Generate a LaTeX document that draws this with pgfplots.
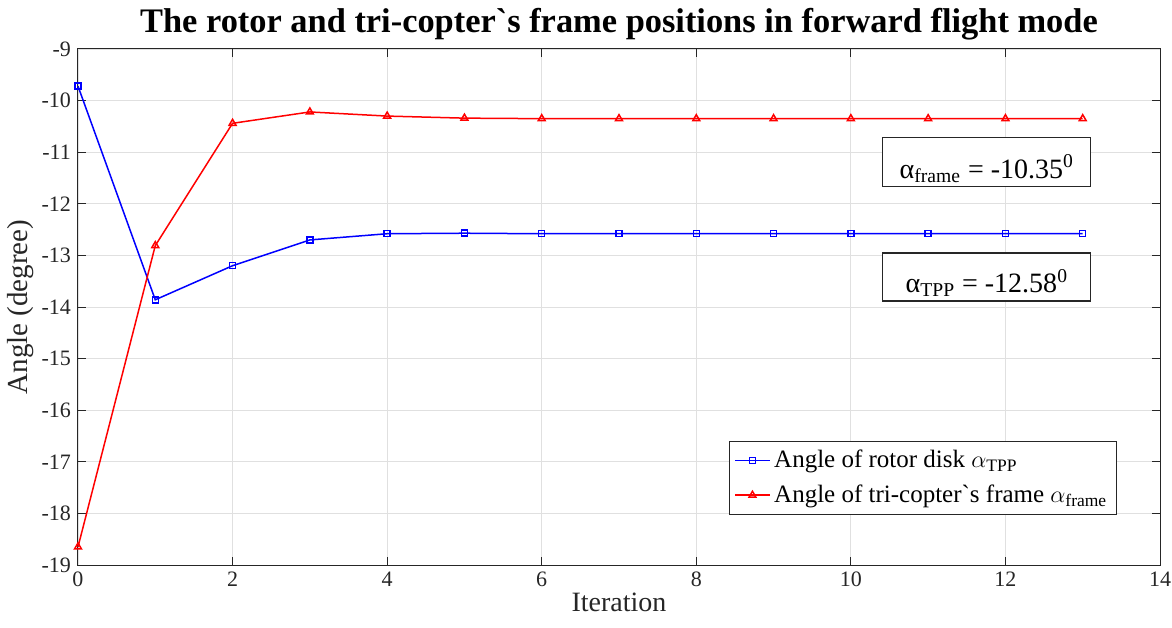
\documentclass[border=0pt]{standalone}
\usepackage{fontspec}
\setmainfont{Liberation Serif}
\usepackage{pgfplots}
\pgfplotsset{compat=1.18}
\definecolor{axgray}{gray}{0.15}
\definecolor{gridgray}{gray}{0.88}
\begin{document}
\begin{tikzpicture}
\begin{axis}[
  scale only axis,
  width=541pt, height=258pt,
  xmin=0, xmax=14, ymin=-19, ymax=-9,
  xtick={0,2,...,14}, ytick={-19,-18,...,-9},
  /pgf/number format/assume math mode=true,
  tick label style={font=\fontsize{11}{12}\selectfont, text=axgray},
  grid=major,
  major grid style={gridgray, line width=0.4pt},
  axis line style={axgray, line width=0.5pt},
  tick style={axgray, line width=0.5pt},
  tick align=inside,
  major tick length=4pt,
  title={\bfseries The rotor and tri-copter\textasciigrave s frame positions in forward flight mode},
  title style={font=\fontsize{17.2}{19}\selectfont, yshift=-5pt},
  xlabel={Iteration},
  ylabel={Angle (degree)},
  xlabel style={font=\fontsize{14}{16}\selectfont, text=axgray, yshift=4pt},
  ylabel style={font=\fontsize{14.5}{16}\selectfont, text=axgray, yshift=-3pt},
  legend style={at={(0.96,0.097)}, anchor=south east, draw=axgray, line width=0.5pt,
    font=\fontsize{12.5}{15}\selectfont, inner sep=2.5pt, row sep=3pt},
  legend cell align=left,
  legend image post style={line width=0.7pt},
  clip=false,
]
\addplot[blue, line width=0.75pt, mark=square, mark size=1.5pt, mark options={solid}] coordinates {
(0,-9.72) (1,-13.86) (2,-13.2) (3,-12.7) (4,-12.58) (5,-12.57) (6,-12.58) (7,-12.58)
(8,-12.58) (9,-12.58) (10,-12.58) (11,-12.58) (12,-12.58) (13,-12.58)};
\addlegendentry{Angle of rotor disk $\alpha_{\mathrm{TPP}}$}
\addplot[red, line width=0.75pt, mark=triangle, mark size=2pt, mark options={solid}] coordinates {
(0,-18.65) (1,-12.81) (2,-10.44) (3,-10.22) (4,-10.30) (5,-10.34) (6,-10.35) (7,-10.35)
(8,-10.35) (9,-10.35) (10,-10.35) (11,-10.35) (12,-10.35) (13,-10.35)};
\addlegendentry{Angle of tri-copter\textasciigrave s frame $\alpha_{\mathrm{frame}}$}
\node[draw=axgray, line width=0.6pt, fill=white, minimum width=104pt, minimum height=24.5pt, inner sep=0pt,
  font=\fontsize{14}{16}\selectfont] (fb) at (axis cs:11.76,-11.19) {};
\node[anchor=base, font=\fontsize{14}{16}\selectfont] at ([yshift=4.5pt]fb.south)
  {α\textsubscript{frame} = -10.35\textsuperscript{0}};
\node[draw=axgray, line width=0.6pt, fill=white, minimum width=104pt, minimum height=24pt, inner sep=0pt,
  font=\fontsize{14}{16}\selectfont] (tb) at (axis cs:11.76,-13.42) {};
\node[anchor=base, font=\fontsize{14}{16}\selectfont] at ([yshift=4.5pt]tb.south)
  {α\textsubscript{TPP} = -12.58\textsuperscript{0}};
\coordinate (ll) at (rel axis cs:0,0);
\end{axis}
\pgfresetboundingbox
\path (ll) ++(-39pt,-31pt) rectangle ++(586pt,313.5pt);
\end{tikzpicture}
\end{document}
